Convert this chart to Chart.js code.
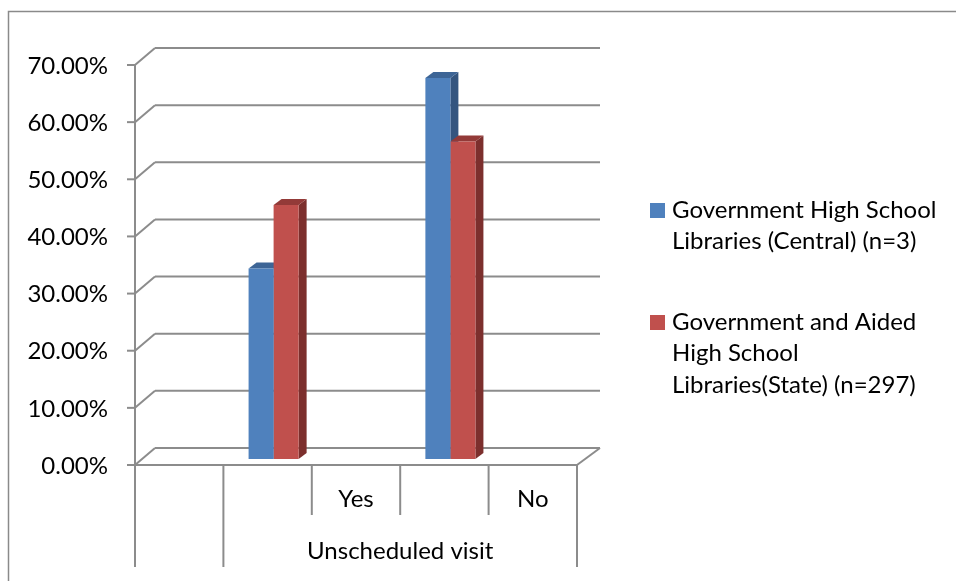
<!DOCTYPE html>
<html lang="en">
<head>
  <meta charset="UTF-8">
  <title>Unscheduled visit</title>
  <script src="https://cdn.jsdelivr.net/npm/chart.js"></script>
  <style>
    body { margin: 0; background: #fff; }
    canvas { display: block; }
  </style>
</head>
<body>
  <canvas id="chart" width="956" height="581"></canvas>
  <script>
    const answers = ['Yes', 'No'];
    const centralPct = [33.33, 66.67];
    const statePct = [44.44, 55.56];
    const groupName = 'Unscheduled visit';
    const yTicks = [0, 10, 20, 30, 40, 50, 60, 70];
    const seriesNames = [
      ['Government High School', 'Libraries (Central) (n=3)'],
      ['Government and Aided', 'High School', 'Libraries(State) (n=297)']
    ];

    // the axis has an empty slot first, then a bar slot and a label slot per answer
    const slotCount = 1 + answers.length * 2;
    const slotLabels = Array(slotCount).fill('');
    const blueData = Array(slotCount).fill(null);
    const redData = Array(slotCount).fill(null);
    answers.forEach((a, i) => {
      slotLabels[2 * i + 2] = a;
      blueData[2 * i + 1] = centralPct[i];
      redData[2 * i + 1] = statePct[i];
    });

    const FONT = 'Lato, "Open Sans", sans-serif';
    const GRID = '#8c8c8c';
    const fronts = ['#4f81bd', '#c0504d'];
    const tops = ['#3d6596', '#933a38'];
    const sides = ['#34557f', '#7c2f2d'];

    const WALL_X = 20, WALL_Y = -17;  // back wall offset
    const BAR_X = 6, BAR_Y = -6;      // plane the bars stand on
    const DEPTH_X = 8, DEPTH_Y = -6;  // bar thickness

    function line(ctx, x1, y1, x2, y2) {
      ctx.beginPath();
      ctx.moveTo(x1, y1);
      ctx.lineTo(x2, y2);
      ctx.stroke();
    }

    function poly(ctx, pts, color) {
      ctx.beginPath();
      ctx.moveTo(pts[0][0], pts[0][1]);
      for (let i = 1; i < pts.length; i++) ctx.lineTo(pts[i][0], pts[i][1]);
      ctx.closePath();
      ctx.fillStyle = color;
      ctx.fill();
    }

    const frame3d = {
      id: 'frame3d',
      beforeDraw(chart) {
        const ctx = chart.ctx;
        const { left, right, top, bottom } = chart.chartArea;
        const y = chart.scales.y;
        const x = chart.scales.x;
        ctx.save();
        ctx.fillStyle = '#fff';
        ctx.fillRect(0, 0, chart.width, chart.height);

        // outer border
        ctx.strokeStyle = '#8a8a8a';
        ctx.lineWidth = 1.5;
        ctx.strokeRect(8.5, 11.5, chart.width + 20, chart.height + 20);

        // back wall gridlines with the side diagonals
        ctx.strokeStyle = GRID;
        ctx.lineWidth = 2;
        yTicks.forEach(v => {
          const py = y.getPixelForValue(v);
          line(ctx, left, py, left + WALL_X, py + WALL_Y);
          line(ctx, left + WALL_X, py + WALL_Y, right + WALL_X + 3, py + WALL_Y);
          line(ctx, left - 8, py, left, py);
        });
        // value axis and floor front edge
        line(ctx, left, top, left, bottom);
        line(ctx, left, bottom, right, bottom);
        line(ctx, right, bottom, right + WALL_X + 3, bottom + WALL_Y);

        // tick labels
        ctx.fillStyle = '#000';
        ctx.font = '24px ' + FONT;
        ctx.textAlign = 'right';
        ctx.textBaseline = 'middle';
        yTicks.forEach(v => {
          ctx.fillText(v.toFixed(2) + '%', left - 27, y.getPixelForValue(v) + 1);
        });

        // category table below the floor
        const slotW = (right - left) / slotCount;
        for (let i = 0; i <= slotCount; i++) {
          const px = left + i * slotW;
          const long = i === 0 || i === 1 || i === slotCount;
          line(ctx, px, bottom, px, long ? bottom + 102 : bottom + 50);
        }
        ctx.textAlign = 'center';
        slotLabels.forEach((lab, i) => {
          if (lab) ctx.fillText(lab, x.getPixelForValue(i), bottom + 34);
        });
        ctx.fillText(groupName, (left + slotW + right) / 2, bottom + 86);

        // legend
        ctx.textAlign = 'left';
        let ly = 210;
        seriesNames.forEach((lines, s) => {
          ctx.fillStyle = fronts[s];
          ctx.fillRect(650, ly - 7, 15, 15);
          ctx.fillStyle = '#000';
          lines.forEach((t, k) => ctx.fillText(t, 672, ly + k * 31.5));
          ly += 112;
        });
        ctx.restore();
      },
      beforeDatasetsDraw(chart) {
        const ctx = chart.ctx;
        ctx.save();
        ctx.translate(BAR_X, BAR_Y);
        // side and top faces go first so the neighbouring front face covers them
        chart.data.datasets.forEach((ds, s) => {
          chart.getDatasetMeta(s).data.forEach((bar, i) => {
            if (ds.data[i] == null) return;
            const { x, y, base, width } = bar.getProps(['x', 'y', 'base', 'width'], true);
            const xl = x - width / 2, xr = x + width / 2;
            poly(ctx, [[xr, y], [xr + DEPTH_X, y + DEPTH_Y], [xr + DEPTH_X, base + DEPTH_Y], [xr, base]], sides[s]);
            poly(ctx, [[xl, y], [xl + DEPTH_X, y + DEPTH_Y], [xr + DEPTH_X, y + DEPTH_Y], [xr, y]], tops[s]);
          });
        });
      },
      afterDatasetsDraw(chart) {
        chart.ctx.restore();
      }
    };

    const ctx = document.getElementById('chart').getContext('2d');
    new Chart(ctx, {
      type: 'bar',
      data: {
        labels: slotLabels,
        datasets: [
          { label: seriesNames[0].join(' '), data: blueData, backgroundColor: fronts[0] },
          { label: seriesNames[1].join(' '), data: redData, backgroundColor: fronts[1] }
        ]
      },
      options: {
        responsive: false,
        animation: false,
        layout: { padding: { left: 135, right: 379, top: 65, bottom: 116 } },
        datasets: {
          bar: { categoryPercentage: 0.566, barPercentage: 1, borderWidth: 0, clip: false }
        },
        scales: {
          x: { display: false },
          y: { display: false, min: 0, max: 70, ticks: { stepSize: 10 } }
        },
        plugins: {
          legend: { display: false },
          tooltip: { enabled: false }
        }
      },
      plugins: [frame3d]
    });
  </script>
</body>
</html>
